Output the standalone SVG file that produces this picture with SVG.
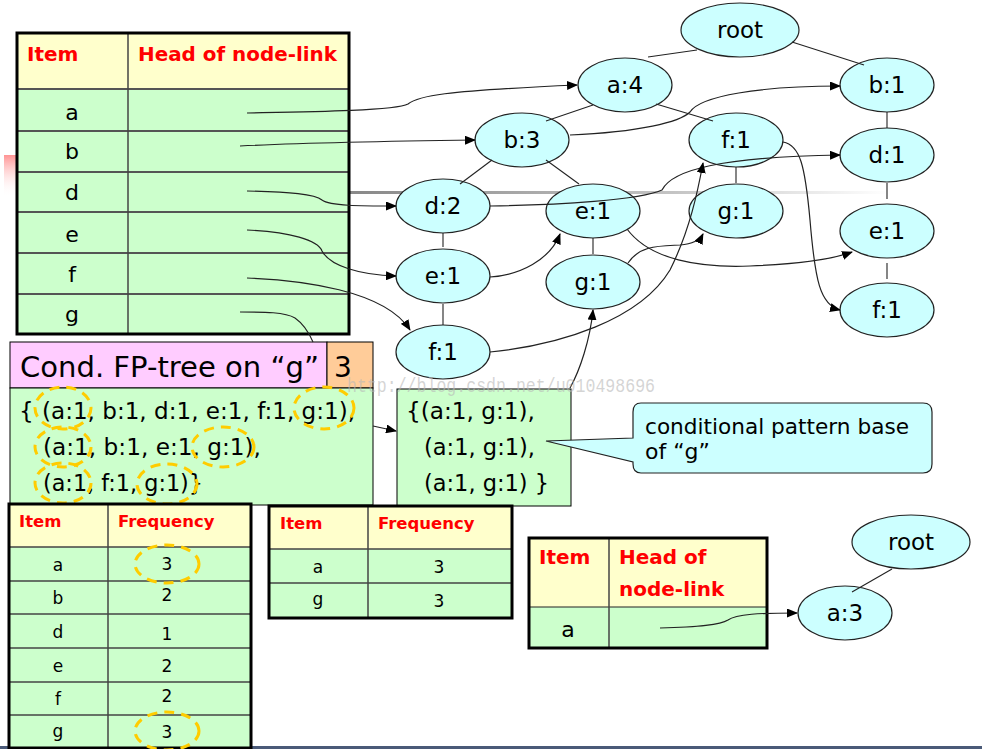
<svg xmlns="http://www.w3.org/2000/svg" width="982" height="749" viewBox="0 0 982 749">
<defs>
<style>
.hdr{fill:#FFFFCC}
.body{fill:#CCFFCC}
.outer{fill:none;stroke:#000;stroke-width:3}
.hl{stroke:#555;stroke-width:2}
.vl{stroke:#444;stroke-width:1.5}
.red{font-family:"DejaVu Sans",Verdana,sans-serif;font-weight:bold;fill:#FF0000}
.t{font-family:"DejaVu Sans",Verdana,sans-serif;fill:#000}
.node ellipse{fill:#CCFFFF;stroke:#222;stroke-width:1.2}
.node text{font-family:"DejaVu Sans",Verdana,sans-serif;font-size:23px;text-anchor:middle;fill:#000}
.edge{stroke:#222;stroke-width:1.1;fill:none}
.link{stroke:#222;stroke-width:1.2;fill:none;marker-end:url(#arr)}
.dash{fill:none;stroke:#FFCC00;stroke-width:3;stroke-dasharray:10 7}
</style>
<marker id="arr" markerUnits="userSpaceOnUse" markerWidth="11" markerHeight="9" refX="10" refY="4.5" orient="auto">
<path d="M0,0 L11,4.5 L0,9 z" fill="#000"/>
</marker>
<linearGradient id="gline" x1="0" y1="0" x2="1" y2="0">
<stop offset="0" stop-color="#888"/>
<stop offset="0.6" stop-color="#c4c4c4"/>
<stop offset="1" stop-color="#fff"/>
</linearGradient>
<linearGradient id="pink" x1="0" y1="0" x2="0" y2="1">
<stop offset="0" stop-color="#ff7070" stop-opacity="0.75"/>
<stop offset="1" stop-color="#ffffff" stop-opacity="0"/>
</linearGradient>
</defs>
<rect width="982" height="749" fill="#fff"/>

<!-- background artifacts -->
<rect x="4" y="155" width="13" height="42" fill="url(#pink)"/>
<rect x="349" y="191" width="540" height="3" fill="url(#gline)"/>
<rect x="0" y="746" width="982" height="3" fill="#4A5A78"/>

<!-- top header table -->
<g id="table-header">
<rect class="hdr" x="17" y="33" width="332" height="56"/>
<rect class="body" x="17" y="89" width="332" height="245"/>
<line class="hl" x1="17" y1="89" x2="349" y2="89"/>
<line class="hl" x1="17" y1="131" x2="349" y2="131"/>
<line class="hl" x1="17" y1="172" x2="349" y2="172"/>
<line class="hl" x1="17" y1="212" x2="349" y2="212"/>
<line class="hl" x1="17" y1="253" x2="349" y2="253"/>
<line class="hl" x1="17" y1="294" x2="349" y2="294"/>
<line class="vl" x1="128" y1="33" x2="128" y2="334"/>
<rect class="outer" x="17" y="33" width="332" height="301"/>
<text class="red" x="27" y="61" font-size="20">Item</text>
<text class="red" x="138" y="61" font-size="20" textLength="199" lengthAdjust="spacingAndGlyphs">Head of node-link</text>
<g class="t" font-size="22" text-anchor="middle">
<text x="72" y="120">a</text>
<text x="72" y="159">b</text>
<text x="72" y="200">d</text>
<text x="72" y="242">e</text>
<text x="72" y="282">f</text>
<text x="72" y="322">g</text>
</g>
</g>

<!-- tree nodes -->
<g id="n-root" class="node"><ellipse cx="740" cy="30" rx="59" ry="27"/><text x="740" y="38">root</text></g>
<g id="n-a4" class="node"><ellipse cx="625" cy="85" rx="47" ry="27"/><text x="625" y="93">a:4</text></g>
<g id="n-b1" class="node"><ellipse cx="887" cy="85" rx="47" ry="27"/><text x="887" y="93">b:1</text></g>
<g id="n-b3" class="node"><ellipse cx="522" cy="140" rx="47" ry="27"/><text x="522" y="148">b:3</text></g>
<g id="n-f1m" class="node"><ellipse cx="736" cy="140" rx="47" ry="27"/><text x="736" y="148">f:1</text></g>
<g id="n-d1" class="node"><ellipse cx="887" cy="155" rx="47" ry="27"/><text x="887" y="163">d:1</text></g>
<g id="n-d2" class="node"><ellipse cx="443" cy="206" rx="47" ry="27"/><text x="443" y="214">d:2</text></g>
<g id="n-e1m" class="node"><ellipse cx="593" cy="211" rx="47" ry="27"/><text x="593" y="219">e:1</text></g>
<g id="n-g1r" class="node"><ellipse cx="736" cy="211" rx="47" ry="27"/><text x="736" y="219">g:1</text></g>
<g id="n-e1r" class="node"><ellipse cx="887" cy="231" rx="47" ry="27"/><text x="887" y="239">e:1</text></g>
<g id="n-e1l" class="node"><ellipse cx="443" cy="276" rx="47" ry="27"/><text x="443" y="284">e:1</text></g>
<g id="n-g1m" class="node"><ellipse cx="593" cy="282" rx="47" ry="27"/><text x="593" y="290">g:1</text></g>
<g id="n-f1r" class="node"><ellipse cx="887" cy="310" rx="47" ry="27"/><text x="887" y="318">f:1</text></g>
<g id="n-f1l" class="node"><ellipse cx="443" cy="352" rx="47" ry="27"/><text x="443" y="360">f:1</text></g>

<!-- conditional FP-tree box -->
<g id="cond-box">
<rect x="10" y="342" width="317" height="46" fill="#FFCCFF" stroke="#000" stroke-width="1"/>
<rect x="327" y="342" width="46" height="46" fill="#FFCC99" stroke="#000" stroke-width="1"/>
<rect x="10" y="388" width="363" height="117" fill="#CCFFCC" stroke="#000" stroke-width="1"/>
<text class="t" x="20" y="377" font-size="28" textLength="299" lengthAdjust="spacingAndGlyphs">Cond. FP-tree on “g”</text>
<text class="t" x="343" y="377" font-size="28" text-anchor="middle">3</text>
<text class="t" x="19" y="419" font-size="23">{</text>
<text class="t" x="42" y="419" font-size="23" textLength="313" lengthAdjust="spacingAndGlyphs">(a:1, b:1, d:1, e:1, f:1, g:1),</text>
<text class="t" x="43" y="455" font-size="23" textLength="218" lengthAdjust="spacingAndGlyphs">(a:1, b:1, e:1, g:1),</text>
<text class="t" x="43" y="491" font-size="23" textLength="160" lengthAdjust="spacingAndGlyphs">(a:1, f:1, g:1)}</text>
<ellipse class="dash" cx="63" cy="408" rx="28" ry="21"/>
<ellipse class="dash" cx="324" cy="408" rx="30" ry="21"/>
<ellipse class="dash" cx="63" cy="447" rx="28" ry="20"/>
<ellipse class="dash" cx="223" cy="447" rx="31" ry="20"/>
<ellipse class="dash" cx="63" cy="483" rx="28" ry="20"/>
<ellipse class="dash" cx="167" cy="484" rx="30" ry="20"/>
</g>

<!-- conditional pattern base box -->
<g id="pattern-box">
<rect x="397" y="389" width="174" height="117" fill="#CCFFCC" stroke="#000" stroke-width="1"/>
<text class="t" x="406" y="419" font-size="23" textLength="129" lengthAdjust="spacingAndGlyphs">{(a:1, g:1),</text>
<text class="t" x="424" y="455" font-size="23" textLength="111" lengthAdjust="spacingAndGlyphs">(a:1, g:1),</text>
<text class="t" x="424" y="491" font-size="23" textLength="125" lengthAdjust="spacingAndGlyphs">(a:1, g:1) }</text>
</g>

<!-- callout -->
<g id="callout">
<path d="M641,403 H923 Q932,403 932,412 V464 Q932,473 923,473 H641 Q633,473 633,464 V462 L546,441 L633,438 V412 Q633,403 641,403 Z" fill="#CCFFFF" stroke="#222" stroke-width="1.2"/>
<text class="t" x="645" y="434" font-size="22" textLength="264" lengthAdjust="spacingAndGlyphs">conditional pattern base</text>
<text class="t" x="645" y="459" font-size="22">of “g”</text>
</g>

<!-- frequency table 1 -->
<g id="freq-table-1">
<rect class="hdr" x="9" y="504" width="242" height="43"/>
<rect class="body" x="9" y="547" width="242" height="201"/>
<g stroke="#444" stroke-width="1.5">
<line x1="9" y1="547" x2="251" y2="547"/>
<line x1="9" y1="581" x2="251" y2="581"/>
<line x1="9" y1="614" x2="251" y2="614"/>
<line x1="9" y1="648" x2="251" y2="648"/>
<line x1="9" y1="682" x2="251" y2="682"/>
<line x1="9" y1="715" x2="251" y2="715"/>
<line x1="108" y1="504" x2="108" y2="748"/>
</g>
<rect class="outer" x="9" y="504" width="242" height="244"/>
<text class="red" x="19" y="527" font-size="16.5">Item</text>
<text class="red" x="118" y="527" font-size="16.5">Frequency</text>
<g class="t" font-size="17" text-anchor="middle">
<text x="58" y="571">a</text><text x="167" y="570">3</text>
<text x="58" y="604">b</text><text x="167" y="601">2</text>
<text x="58" y="638">d</text><text x="167" y="640">1</text>
<text x="58" y="672">e</text><text x="167" y="672">2</text>
<text x="58" y="705">f</text><text x="167" y="702">2</text>
<text x="58" y="737">g</text><text x="167" y="738">3</text>
</g>
<ellipse class="dash" cx="167" cy="564" rx="32" ry="19"/>
<ellipse class="dash" cx="167" cy="731" rx="32" ry="19"/>
</g>

<!-- frequency table 2 -->
<g id="freq-table-2">
<rect class="hdr" x="269" y="506" width="243" height="43"/>
<rect class="body" x="269" y="549" width="243" height="69"/>
<g stroke="#444" stroke-width="1.5">
<line x1="269" y1="549" x2="512" y2="549"/>
<line x1="269" y1="583" x2="512" y2="583"/>
<line x1="368" y1="506" x2="368" y2="618"/>
</g>
<rect class="outer" x="269" y="506" width="243" height="112"/>
<text class="red" x="280" y="529" font-size="16.5">Item</text>
<text class="red" x="378" y="529" font-size="16.5">Frequency</text>
<g class="t" font-size="17" text-anchor="middle">
<text x="318" y="573">a</text><text x="439" y="573">3</text>
<text x="318" y="605">g</text><text x="439" y="607">3</text>
</g>
</g>

<!-- header table for g-conditional tree -->
<g id="table-header-2">
<rect class="hdr" x="529" y="538" width="238" height="69"/>
<rect class="body" x="529" y="607" width="238" height="41"/>
<line x1="529" y1="607" x2="767" y2="607" stroke="#222" stroke-width="1.2"/>
<line class="vl" x1="609" y1="538" x2="609" y2="648"/>
<rect class="outer" x="529" y="538" width="238" height="110"/>
<text class="red" x="539" y="564" font-size="20">Item</text>
<text class="red" x="619" y="564" font-size="20">Head of</text>
<text class="red" x="619" y="596" font-size="20">node-link</text>
<text class="t" x="568" y="637" font-size="22" text-anchor="middle">a</text>
</g>

<g id="n-root2" class="node"><ellipse cx="911" cy="542" rx="59" ry="27"/><text x="911" y="550">root</text></g>
<g id="n-a3" class="node"><ellipse cx="845" cy="613" rx="47" ry="27"/><text x="845" y="621">a:3</text></g>

<!-- connectors -->
<g id="connectors">
<!-- tree edges -->
<line class="edge" x1="648" y1="57" x2="697" y2="50"/>
<line class="edge" x1="792" y1="42" x2="864" y2="65"/>
<line class="edge" x1="593" y1="105" x2="546" y2="121"/>
<line class="edge" x1="656" y1="104" x2="713" y2="121"/>
<line class="edge" x1="492" y1="160" x2="460" y2="184"/>
<line class="edge" x1="546" y1="160" x2="579" y2="184"/>
<line class="edge" x1="887" y1="112" x2="887" y2="128"/>
<line class="edge" x1="887" y1="183" x2="887" y2="199"/>
<line class="edge" x1="887" y1="263" x2="887" y2="279"/>
<line class="edge" x1="736" y1="167" x2="736" y2="183"/>
<line class="edge" x1="443" y1="233" x2="443" y2="247"/>
<line class="edge" x1="443" y1="304" x2="443" y2="325"/>
<line class="edge" x1="593" y1="238" x2="593" y2="254"/>
<line class="edge" x1="892" y1="569" x2="852" y2="592"/>
<!-- node-links -->
<path class="link" d="M247,113 C300,112 395,111 408,104 C418,96 440,91 577,85"/>
<path class="link" d="M240,146 C300,143 400,141 475,140" stroke-width="1.8"/>
<path class="link" d="M570,135 C640,132 680,122 690,112 C700,96 760,86 840,86"/>
<path class="link" d="M247,191 C290,192 315,194 322,200 C330,206 360,206 396,206"/>
<path class="link" d="M490,206 C560,205 640,200 662,190 C672,170 720,157 840,155"/>
<path class="link" d="M247,230 C290,232 318,240 322,251 C330,266 360,275 396,276"/>
<path class="link" d="M490,277 C520,275 550,260 560,234"/>
<path class="link" d="M627,229 C650,260 700,268 750,266 C800,264 830,260 852,252"/>
<path class="link" d="M628,263 C640,245 660,246 680,245 C692,244 700,240 703,234"/>
<path class="link" d="M247,278 C300,280 385,290 410,330"/>
<path class="link" d="M490,352 C560,345 640,320 670,270 C690,230 698,190 703,163"/>
<path class="link" d="M783,142 C800,145 805,165 810,220 C815,280 820,305 840,310"/>
<path class="edge" d="M240,312 C265,312 285,312 295,318 C305,325 310,335 313,342"/>
<path class="link" d="M373,426 L396,431"/>
<path class="link" d="M570,388 C580,370 590,340 593,310"/>
<path class="link" d="M660,628 C700,627 720,625 728,620 C736,614 760,613 797,613"/>
</g>

<!-- watermark -->
<text x="347" y="392" font-family="'Liberation Mono',monospace" font-size="20" fill="#b8b8b8" fill-opacity="0.6" textLength="308" lengthAdjust="spacingAndGlyphs">http://blog.csdn.net/u010498696</text>
</svg>
